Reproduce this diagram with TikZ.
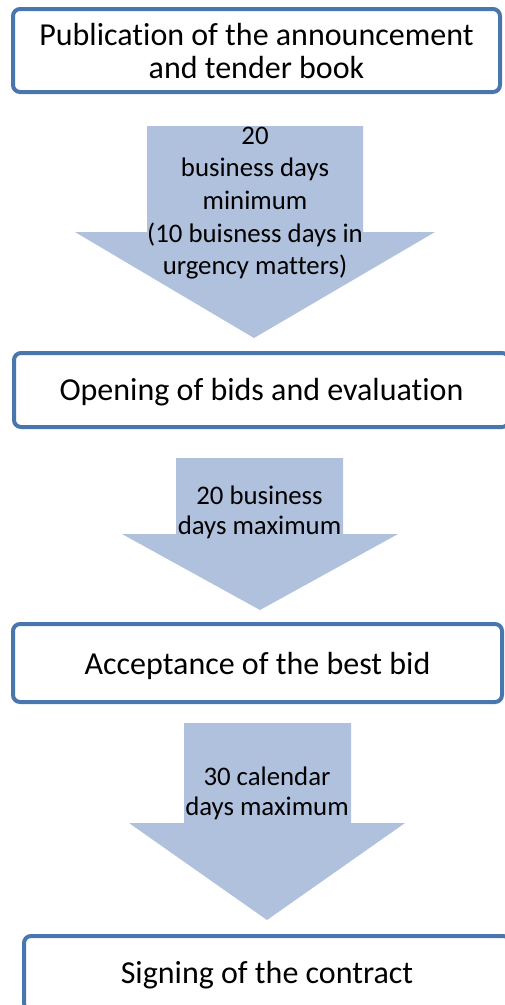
\documentclass[tikz,border=0pt]{standalone}
\usepackage{fontspec}
\setmainfont[Ligatures={NoCommon}]{Carlito}
\begin{document}
\begin{tikzpicture}[x=1pt,y=-1pt,
  stepbox/.style={draw=boxblue,line width=4pt,rounded corners=7pt,fill=white,inner sep=0pt},
  steptext/.style={font=\fontsize{32}{33}\selectfont,align=center,inner sep=0pt},
  blockarrow/.style={fill=arrowfill,draw=none},
  arrowtext/.style={font=\fontsize{26.8}{32.7}\selectfont,align=center,inner sep=0pt}]
\definecolor{boxblue}{HTML}{4A76AE}
\definecolor{arrowfill}{HTML}{B0C1DD}
\useasboundingbox (0,0) rectangle (505,1005);
\clip (0,0) rectangle (505,1005);

% process steps
\node[stepbox,minimum width=487pt,minimum height=83pt] (s1) at (256.5,50.5) {};
\node[steptext] (t1) at ([yshift=-1pt]s1.center) {Publication of the announcement\\and tender book};

\node[stepbox,minimum width=495pt,minimum height=74pt] (s2) at (261.5,390) {};
\node[steptext] (t2) at ([yshift=-2.5pt]s2.center) {Opening of bids and evaluation};

\node[stepbox,minimum width=489pt,minimum height=78pt] (s3) at (257.5,663) {};
\node[steptext] (t3) at ([yshift=-2.5pt]s3.center) {Acceptance of the best bid};

\node[stepbox,minimum width=486pt,minimum height=74pt] (s4) at (267,973) {};
\node[steptext] (t4) at ([yshift=-2pt]s4.center) {Signing of the contract};

% block arrows between steps
\path[blockarrow] (147,126) -- (363,126) -- (363,232) -- (435,232) -- (254,338)
  -- (75,232) -- (147,232) -- cycle;
\node[arrowtext] (a1) at (255,203) {20\\business days\\minimum\\(10 buisness days in\\urgency matters)};

\path[blockarrow] (176,458) -- (343,458) -- (343,534) -- (398,534) -- (260,610)
  -- (122,534) -- (176,534) -- cycle;
\node[arrowtext,font=\fontsize{26.8}{29.5}\selectfont] (a2) at (259.5,512.5) {20 business\\days maximum};

\path[blockarrow] (184,723) -- (351,723) -- (351,823) -- (405,823) -- (267,920)
  -- (129,823) -- (184,823) -- cycle;
\node[arrowtext,font=\fontsize{26.8}{29.5}\selectfont] (a3) at (267,793.5) {30 calendar\\days maximum};
\end{tikzpicture}
\end{document}
